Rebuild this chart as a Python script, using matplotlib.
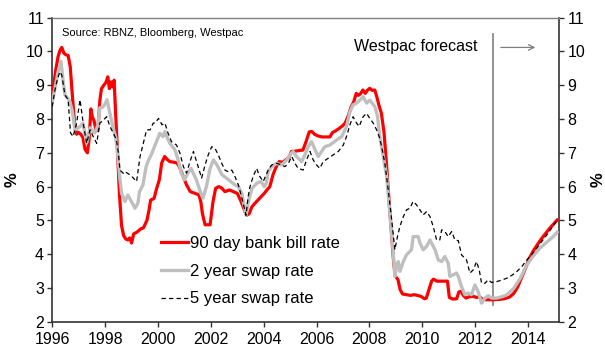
import matplotlib
matplotlib.use("Agg")
import matplotlib.pyplot as plt

plt.rcParams['font.family'] = ['Liberation Sans', 'DejaVu Sans']

# 90 day bank bill rate (history + forecast)
bill_years = [1996.00, 1996.12, 1996.22, 1996.30, 1996.36, 1996.44, 1996.52, 1996.60, 1996.68, 1996.76,
              1996.84, 1996.92, 1997.00, 1997.08, 1997.16, 1997.24, 1997.33, 1997.40, 1997.46, 1997.52,
              1997.58, 1997.66, 1997.73, 1997.80, 1997.86, 1997.95, 1998.04, 1998.10, 1998.16, 1998.22,
              1998.28, 1998.34, 1998.40, 1998.47, 1998.54, 1998.62, 1998.70, 1998.78, 1998.86, 1998.93,
              1999.00, 1999.08, 1999.20, 1999.35, 1999.45, 1999.58, 1999.66, 1999.72, 1999.85, 1999.95,
              2000.05, 2000.14, 2000.25, 2000.35, 2000.45, 2000.60, 2000.72, 2000.83, 2000.95, 2001.08,
              2001.22, 2001.40, 2001.55, 2001.62, 2001.68, 2001.78, 2001.97, 2002.08, 2002.18, 2002.30,
              2002.42, 2002.53, 2002.70, 2002.85, 2003.00, 2003.12, 2003.25, 2003.35, 2003.45, 2003.55,
              2003.66, 2003.78, 2003.90, 2004.02, 2004.12, 2004.23, 2004.35, 2004.45, 2004.58, 2004.72,
              2004.85, 2004.95, 2005.05, 2005.20, 2005.35, 2005.48, 2005.60, 2005.72, 2005.82, 2005.92,
              2006.05, 2006.20, 2006.35, 2006.50, 2006.60, 2006.72, 2006.85, 2006.98, 2007.08, 2007.20,
              2007.30, 2007.40, 2007.50, 2007.58, 2007.66, 2007.75, 2007.84, 2007.92, 2008.01, 2008.10,
              2008.20, 2008.28, 2008.36, 2008.45, 2008.55, 2008.65, 2008.72, 2008.82, 2008.92, 2008.98,
              2009.08, 2009.16, 2009.25, 2009.40, 2009.55, 2009.70, 2009.85, 2009.95, 2010.08, 2010.15,
              2010.25, 2010.35, 2010.42, 2010.55, 2010.75, 2010.95, 2011.02, 2011.15, 2011.30, 2011.38,
              2011.46, 2011.55, 2011.65, 2011.78, 2011.92, 2012.05, 2012.18, 2012.28, 2012.45, 2012.66,
              2012.90, 2013.10, 2013.30, 2013.45, 2013.60, 2013.75, 2013.90, 2014.05, 2014.20, 2014.35,
              2014.50, 2014.65, 2014.80, 2014.95, 2015.10]
bill_rates = [8.65, 9.40, 9.85, 10.05, 10.12, 9.95, 9.90, 9.88, 9.55, 8.70,
              7.90, 7.55, 7.60, 7.55, 7.45, 7.10, 7.00, 7.45, 8.30, 8.05,
              7.95, 7.65, 7.70, 8.55, 8.90, 9.00, 9.10, 9.25, 8.90, 9.10,
              8.95, 9.15, 8.10, 7.00, 5.80, 4.85, 4.55, 4.45, 4.42, 4.48,
              4.33, 4.60, 4.65, 4.75, 4.78, 5.00, 5.30, 5.60, 5.65, 5.95,
              6.20, 6.70, 6.89, 6.80, 6.74, 6.72, 6.70, 6.55, 6.30, 6.05,
              5.85, 5.80, 5.75, 5.55, 5.20, 4.87, 4.87, 5.55, 5.95, 6.00,
              5.95, 5.85, 5.90, 5.85, 5.80, 5.60, 5.35, 5.15, 5.20, 5.40,
              5.50, 5.60, 5.70, 5.80, 5.90, 6.00, 6.35, 6.55, 6.74, 6.72,
              6.80, 6.86, 7.04, 7.05, 7.07, 7.08, 7.33, 7.62, 7.63, 7.55,
              7.50, 7.47, 7.47, 7.47, 7.60, 7.65, 7.72, 7.80, 7.88, 8.10,
              8.35, 8.50, 8.76, 8.70, 8.75, 8.86, 8.76, 8.85, 8.91, 8.85,
              8.86, 8.65, 8.40, 8.17, 7.60, 6.60, 5.80, 4.75, 3.70, 3.35,
              3.24, 2.95, 2.82, 2.80, 2.78, 2.80, 2.77, 2.75, 2.68, 2.70,
              2.95, 3.20, 3.26, 3.20, 3.20, 3.20, 2.72, 2.67, 2.68, 2.88,
              2.90, 2.78, 2.70, 2.74, 2.75, 2.72, 2.73, 2.66, 2.65, 2.65,
              2.66, 2.68, 2.73, 2.83, 3.02, 3.30, 3.58, 3.88, 4.10, 4.28,
              4.45, 4.60, 4.75, 4.88, 5.01]

# 2 year swap rate
swap2_years = [1996.00, 1996.10, 1996.22, 1996.33, 1996.40, 1996.48, 1996.59, 1996.67, 1996.75, 1996.86,
               1996.98, 1997.08, 1997.16, 1997.23, 1997.30, 1997.43, 1997.52, 1997.61, 1997.73, 1997.80,
               1997.92, 1998.00, 1998.07, 1998.18, 1998.30, 1998.40, 1998.47, 1998.55, 1998.62, 1998.70,
               1998.75, 1998.86, 1998.99, 1999.07, 1999.13, 1999.24, 1999.30, 1999.43, 1999.55, 1999.65,
               1999.75, 1999.89, 2000.07, 2000.19, 2000.26, 2000.35, 2000.45, 2000.64, 2000.76, 2000.88,
               2001.00, 2001.13, 2001.25, 2001.45, 2001.62, 2001.70, 2001.83, 2001.97, 2002.10, 2002.23,
               2002.42, 2002.67, 2002.91, 2003.04, 2003.17, 2003.33, 2003.43, 2003.56, 2003.74, 2003.90,
               2004.02, 2004.10, 2004.17, 2004.30, 2004.49, 2004.68, 2004.87, 2004.99, 2005.11, 2005.24,
               2005.43, 2005.56, 2005.68, 2005.81, 2005.94, 2006.06, 2006.19, 2006.31, 2006.50, 2006.76,
               2006.95, 2007.13, 2007.26, 2007.38, 2007.51, 2007.64, 2007.76, 2007.89, 2008.01, 2008.20,
               2008.30, 2008.39, 2008.52, 2008.65, 2008.77, 2008.90, 2008.96, 2009.02, 2009.09, 2009.15,
               2009.28, 2009.40, 2009.59, 2009.65, 2009.84, 2009.91, 2010.03, 2010.16, 2010.29, 2010.48,
               2010.60, 2010.73, 2010.85, 2010.98, 2011.04, 2011.20, 2011.29, 2011.36, 2011.48, 2011.61,
               2011.73, 2011.86, 2011.99, 2012.11, 2012.24, 2012.37, 2012.49, 2012.62, 2012.82, 2013.05,
               2013.20, 2013.45, 2013.70, 2013.95, 2014.20, 2014.45, 2014.70, 2014.95, 2015.10]
swap2_rates = [8.50, 8.90, 9.40, 9.70, 9.20, 8.71, 8.62, 8.50, 8.27, 7.68,
               7.74, 7.80, 7.88, 7.60, 7.29, 7.74, 7.65, 7.59, 7.83, 8.33,
               8.36, 8.45, 8.57, 8.18, 7.74, 7.45, 7.00, 6.30, 5.80, 5.65,
               5.56, 5.75, 5.56, 5.45, 5.36, 5.51, 5.85, 6.05, 6.59, 6.80,
               6.95, 7.23, 7.58, 7.48, 7.63, 7.45, 7.28, 7.09, 6.79, 6.40,
               6.20, 6.40, 6.54, 6.20, 5.80, 5.66, 6.00, 6.54, 6.79, 6.64,
               6.35, 6.20, 6.05, 6.00, 5.80, 5.15, 5.60, 5.95, 6.10, 6.15,
               6.00, 6.10, 6.45, 6.59, 6.69, 6.64, 6.79, 6.94, 7.04, 6.89,
               6.74, 6.94, 7.18, 7.33, 7.09, 6.89, 7.04, 7.18, 7.23, 7.38,
               7.48, 7.78, 8.22, 8.42, 8.47, 8.56, 8.66, 8.47, 8.56, 8.37,
               8.10, 7.48, 6.89, 6.30, 5.21, 4.03, 3.34, 3.60, 3.78, 3.49,
               3.78, 3.98, 4.13, 4.52, 4.52, 4.33, 4.13, 4.23, 4.42, 4.13,
               3.83, 3.78, 3.93, 3.73, 3.34, 3.40, 3.44, 3.34, 3.04, 2.80,
               2.85, 2.80, 3.09, 2.89, 2.55, 2.70, 2.77, 2.70, 2.70, 2.75,
               2.80, 2.98, 3.28, 3.68, 3.95, 4.18, 4.35, 4.52, 4.65]

# 5 year swap rate
swap5_years = [1996.00, 1996.10, 1996.20, 1996.29, 1996.36, 1996.48, 1996.60, 1996.69, 1996.79, 1996.92,
               1997.05, 1997.17, 1997.30, 1997.43, 1997.55, 1997.68, 1997.80, 1997.93, 1998.06, 1998.18,
               1998.31, 1998.43, 1998.50, 1998.56, 1998.69, 1998.75, 1998.94, 1999.07, 1999.19, 1999.32,
               1999.45, 1999.57, 1999.70, 1999.82, 1999.89, 2000.02, 2000.15, 2000.26, 2000.38, 2000.51,
               2000.70, 2000.83, 2000.96, 2001.08, 2001.21, 2001.34, 2001.46, 2001.65, 2001.78, 2001.90,
               2002.03, 2002.15, 2002.28, 2002.41, 2002.53, 2002.66, 2002.79, 2002.91, 2003.04, 2003.16,
               2003.33, 2003.41, 2003.48, 2003.60, 2003.73, 2003.85, 2003.98, 2004.17, 2004.30, 2004.49,
               2004.68, 2004.80, 2004.93, 2005.06, 2005.18, 2005.30, 2005.49, 2005.62, 2005.75, 2005.87,
               2006.00, 2006.12, 2006.25, 2006.44, 2006.63, 2006.82, 2007.01, 2007.13, 2007.26, 2007.38,
               2007.51, 2007.61, 2007.76, 2007.89, 2008.01, 2008.14, 2008.27, 2008.39, 2008.46, 2008.58,
               2008.71, 2008.84, 2008.96, 2009.03, 2009.15, 2009.28, 2009.40, 2009.53, 2009.65, 2009.78,
               2009.91, 2010.03, 2010.16, 2010.29, 2010.41, 2010.54, 2010.66, 2010.73, 2010.85, 2010.98,
               2011.11, 2011.23, 2011.36, 2011.48, 2011.67, 2011.80, 2011.93, 2012.05, 2012.15, 2012.24,
               2012.37, 2012.49, 2012.62, 2012.82, 2013.00, 2013.20, 2013.40, 2013.58, 2013.78, 2013.95,
               2014.15, 2014.33, 2014.52, 2014.71, 2014.90, 2015.10]
swap5_rates = [8.37, 8.86, 9.20, 9.40, 9.30, 8.71, 8.57, 7.59, 7.48, 7.88,
               8.57, 7.88, 7.28, 7.68, 7.48, 7.28, 7.88, 7.97, 8.07, 7.78,
               7.58, 7.38, 7.00, 6.49, 6.39, 6.44, 6.35, 6.25, 6.15, 6.89,
               7.30, 7.68, 7.68, 7.88, 7.88, 8.02, 7.83, 7.88, 7.58, 7.33,
               7.23, 6.99, 6.59, 6.40, 6.74, 7.04, 6.74, 6.25, 6.64, 6.94,
               7.18, 7.14, 6.94, 6.69, 6.49, 6.44, 6.49, 6.30, 6.05, 5.70,
               5.15, 5.70, 6.00, 6.30, 6.54, 6.30, 6.15, 6.49, 6.64, 6.69,
               6.64, 6.59, 6.69, 6.89, 6.69, 6.54, 6.49, 6.79, 7.04, 6.79,
               6.64, 6.54, 6.74, 6.84, 6.94, 7.04, 7.23, 7.48, 7.83, 8.07,
               7.88, 7.78, 8.07, 8.17, 8.02, 7.88, 7.68, 7.43, 7.18, 6.69,
               5.90, 5.01, 4.13, 4.42, 4.82, 5.11, 5.31, 5.36, 5.56, 5.46,
               5.31, 5.16, 5.26, 5.11, 4.82, 4.42, 4.42, 4.72, 4.67, 4.52,
               4.67, 4.42, 4.40, 3.98, 3.83, 3.44, 3.54, 3.78, 3.54, 3.14,
               3.14, 3.24, 3.16, 3.19, 3.23, 3.29, 3.38, 3.49, 3.65, 3.83,
               4.00, 4.18, 4.38, 4.57, 4.78, 5.01]

forecast_start = 2012.66
x_ticks = [1996, 1998, 2000, 2002, 2004, 2006, 2008, 2010, 2012, 2014]
y_ticks = [2, 3, 4, 5, 6, 7, 8, 9, 10, 11]

fig = plt.figure(figsize=(6.05, 3.49), dpi=100)
ax = fig.add_axes([0.0864, 0.0782, 0.8376, 0.8711])

ax.plot(bill_years, bill_rates, color='#ff0000', lw=2.3, label='90 day bank bill rate', zorder=3)
ax.plot(swap2_years, swap2_rates, color='#bfbfbf', lw=2.4, label='2 year swap rate', zorder=4)
ax.plot(swap5_years, swap5_rates, color='black', lw=0.9, dashes=(3.5, 2.5),
        label='5 year swap rate', zorder=5)

# forecast marker
ax.plot([forecast_start, forecast_start], [2.5, 10.52], color='#7f7f7f', lw=1.2, zorder=2)
ax.text(2012.08, 10.14, 'Westpac forecast', ha='right', va='center', fontsize=11.5)
ax.annotate('', xy=(2014.38, 10.12), xytext=(2012.86, 10.12),
            arrowprops=dict(arrowstyle='->', color='#7f7f7f', lw=0.9))

ax.text(0.02, 0.965, 'Source: RBNZ, Bloomberg, Westpac', transform=ax.transAxes,
        fontsize=8, va='top', ha='left')

ax.set_xlim(1996, 2015.17)
ax.set_ylim(2, 11)
ax.set_xticks(x_ticks)
ax.set_yticks(y_ticks)
ax.tick_params(axis='both', direction='out', length=3.5, width=1, labelsize=11.5, color='#333333')
ax.tick_params(axis='y', right=True, labelright=True, pad=2.5)
ax.tick_params(axis='x', pad=4)

for side in ['left', 'bottom', 'right']:
    ax.spines[side].set_color('#333333')
    ax.spines[side].set_linewidth(1.2)
ax.spines['top'].set_color('#808080')
ax.spines['top'].set_linewidth(1.0)

fig.text(12 / 605, 1 - 180 / 349, '%', rotation=90, fontsize=12, fontweight='bold',
         ha='center', va='center')
fig.text(598 / 605, 1 - 180 / 349, '%', rotation=90, fontsize=12, fontweight='bold',
         ha='center', va='center')

ax.legend(loc='upper left', bbox_to_anchor=(161 / 605, 1 - 236 / 349),
          bbox_transform=fig.transFigure, frameon=False, fontsize=12,
          handlelength=1.6, handletextpad=0.15, labelspacing=0.76,
          borderpad=0, borderaxespad=0)

fig.savefig('out.png', dpi=100)
